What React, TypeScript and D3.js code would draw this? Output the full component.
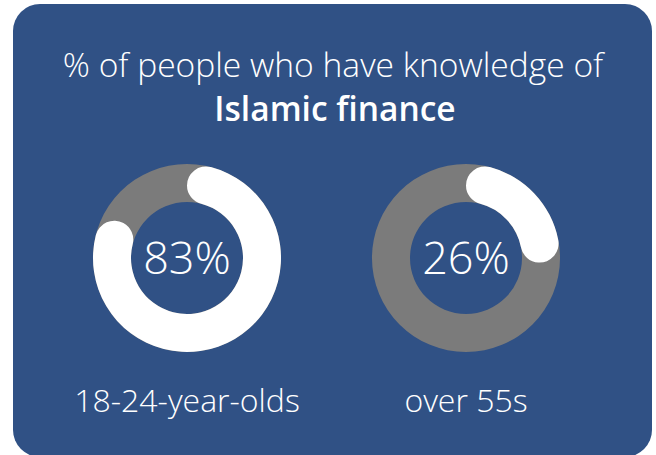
import React from 'react';
import * as d3 from 'd3';

// Values.
const categories = ['18-24-year-olds', 'over 55s'];
const shares = [83, 26];
const titleLine1 = '% of people who have knowledge of';
const titleLine2 = 'Islamic finance';

const width = 656;
const height = 455;

const App = () => {
  // Horizontal position of each donut.
  const x = d3.scalePoint<string>().domain(categories).range([187, 466]);
  // Percent to angle.
  const angle = d3.scaleLinear().domain([0, 100]).range([0, 2 * Math.PI]);

  const outer = 94;
  const inner = 56;
  const cy = 258;

  const track = d3.arc<any>().innerRadius(inner).outerRadius(outer).startAngle(0).endAngle(2 * Math.PI);
  const fill = d3
    .arc<any>()
    .innerRadius(inner)
    .outerRadius(outer)
    .cornerRadius((outer - inner) / 2)
    .startAngle(0)
    .endAngle((d: number) => angle(d));

  const font = '"Open Sans", "Noto Sans", sans-serif';

  return (
    <svg
      width={width}
      height={height}
      style={{ position: 'absolute', left: 0, top: 0, display: 'block' }}
    >
      <rect x={13} y={4} width={639} height={453} rx={27} ry={27} fill="#305185" />
      <text
        x={333}
        y={77}
        textAnchor="middle"
        fill="#ffffff"
        fontFamily={font}
        fontWeight={300}
        fontSize={33.6}
      >
        {titleLine1}
      </text>
      <text
        x={335}
        y={121}
        textAnchor="middle"
        fill="#ffffff"
        fontFamily={font}
        fontWeight={600}
        fontSize={33.5}
      >
        {titleLine2}
      </text>
      {categories.map((c, i) => (
        <g key={c} transform={`translate(${x(c)},${cy})`}>
          <path d={track(null) as string} fill="#7b7b7b" />
          <path d={fill(shares[i]) as string} fill="#ffffff" />
          <text
            y={16}
            textAnchor="middle"
            fill="#ffffff"
            fontFamily={font}
            fontWeight={300}
            fontSize={45}
          >
            {`${shares[i]}%`}
          </text>
          <text
            y={154}
            textAnchor="middle"
            fill="#ffffff"
            fontFamily={font}
            fontWeight={300}
            fontSize={32}
          >
            {c}
          </text>
        </g>
      ))}
    </svg>
  );
};

export default App;
